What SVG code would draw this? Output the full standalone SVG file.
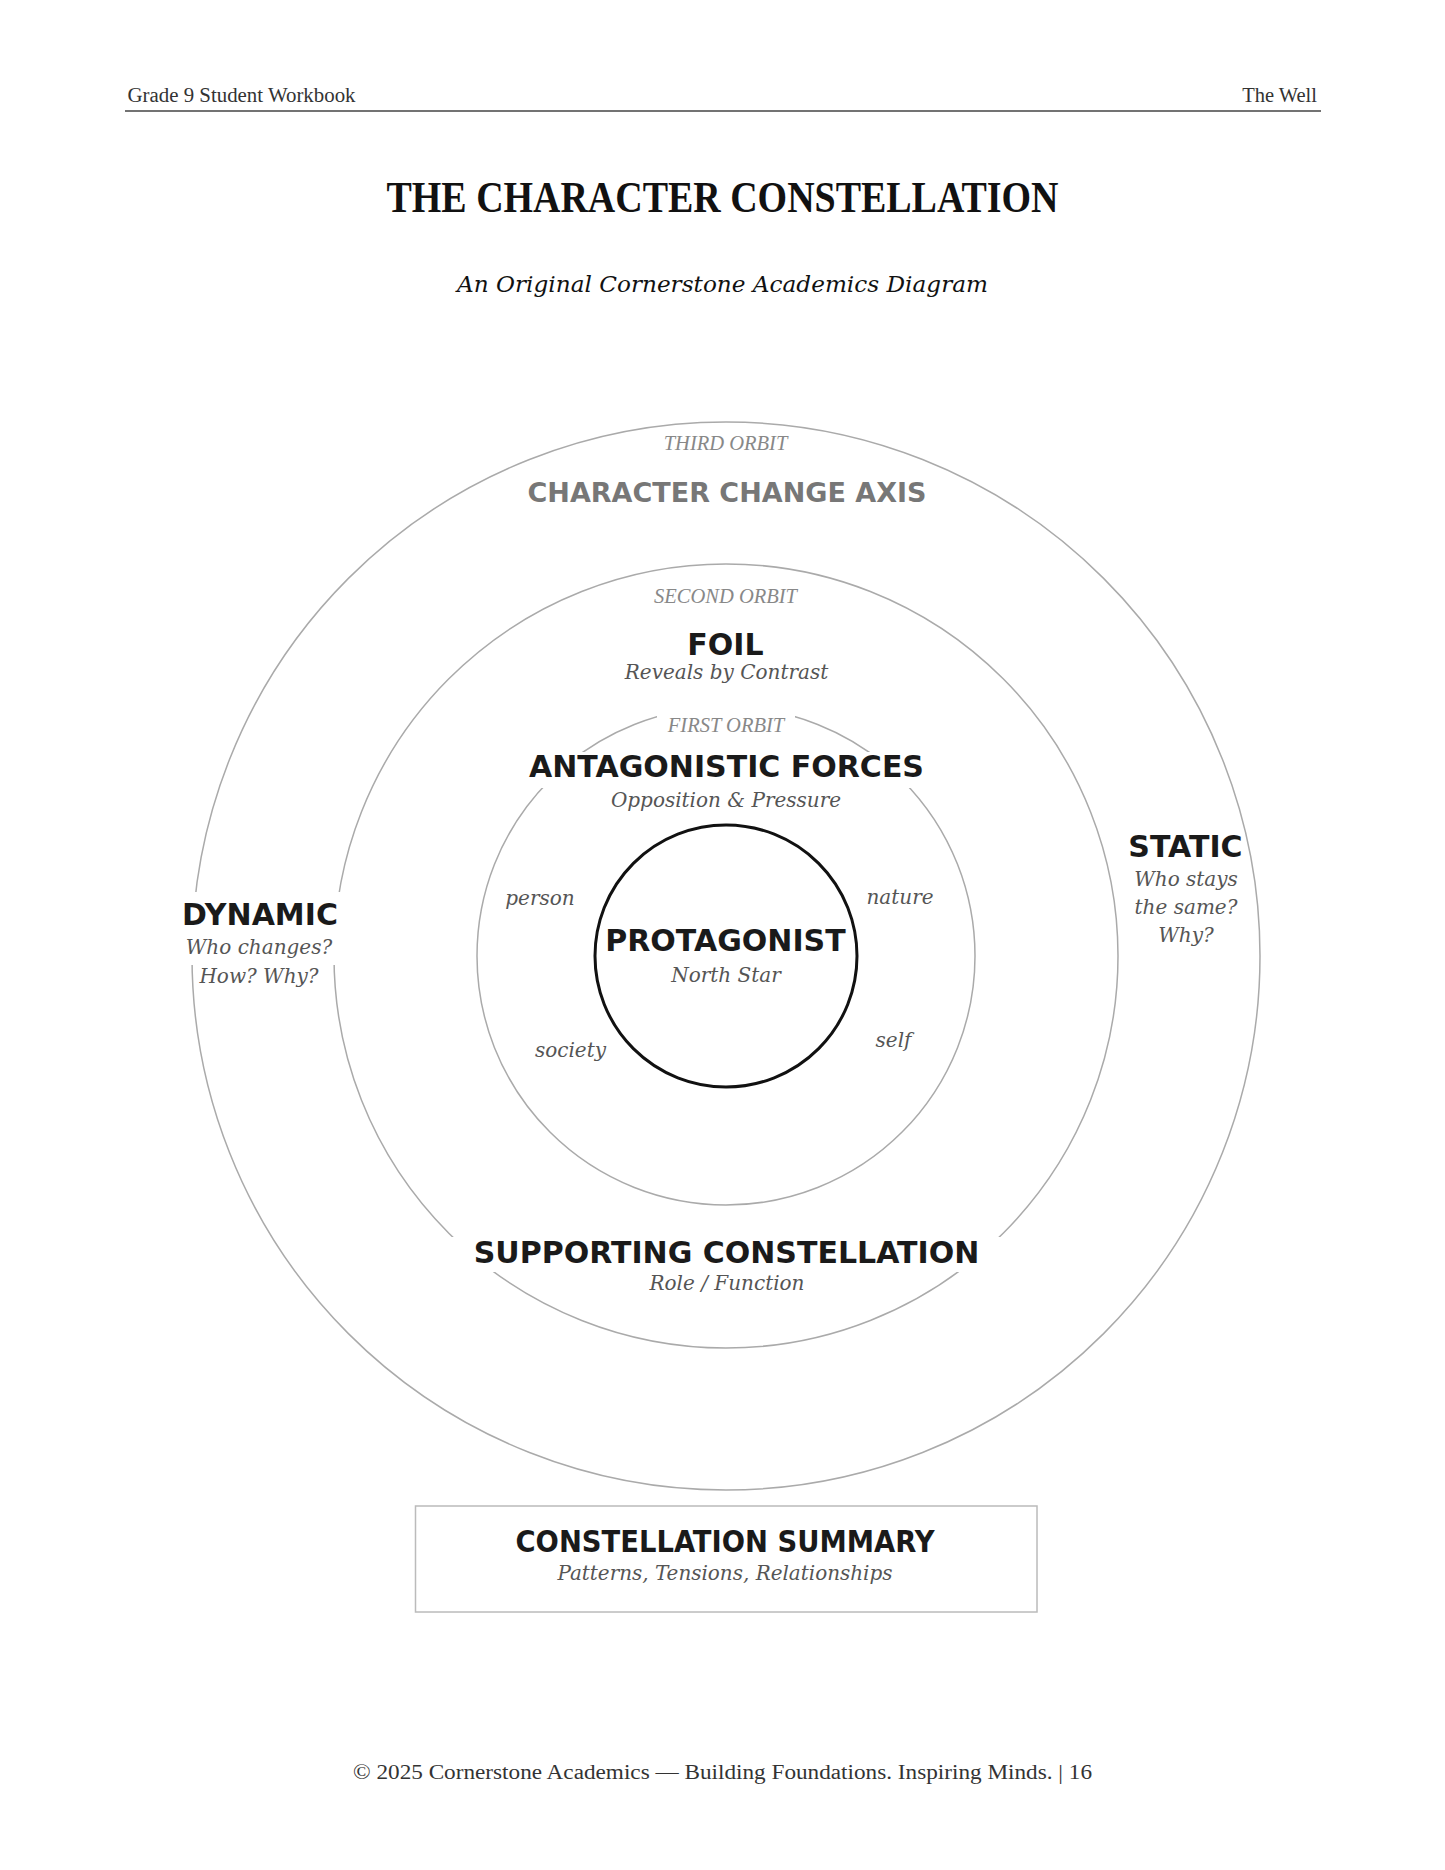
<svg xmlns="http://www.w3.org/2000/svg" width="1445" height="1870" viewBox="0 0 1445 1870">
<style>
.hdr{font-family:"Liberation Serif",serif;font-size:20.5px;fill:#333}
.title{font-family:"Liberation Serif",serif;font-weight:bold;font-size:45px;fill:#111}
.sub{font-family:"DejaVu Serif",serif;font-style:italic;font-size:23px;fill:#111}
.orbitlbl{font-family:"Liberation Serif",serif;font-style:italic;font-size:20.5px;fill:#888;text-anchor:middle}
.head{font-family:"DejaVu Sans",sans-serif;font-weight:bold;font-size:30px;fill:#1a1a1a;text-anchor:middle}
.axis{font-family:"DejaVu Sans",sans-serif;font-weight:bold;font-size:27px;fill:#777;text-anchor:middle}
.it{font-family:"DejaVu Serif",serif;font-style:italic;font-size:20px;fill:#555;text-anchor:middle}
.orbit{fill:none;stroke:#aaa;stroke-width:1.5}
.bg{fill:#fff;stroke:none}
</style>
<rect width="1445" height="1870" fill="#fff"/>
<g id="header">
<text class="hdr" x="127.5" y="102" textLength="228" lengthAdjust="spacingAndGlyphs">Grade 9 Student Workbook</text>
<text class="hdr" x="1317" y="102" text-anchor="end">The Well</text>
<line x1="125" y1="111" x2="1321" y2="111" stroke="#444" stroke-width="1.5"/>
</g>
<g id="title">
<text class="title" x="722.5" y="212" text-anchor="middle" textLength="672" lengthAdjust="spacingAndGlyphs">THE CHARACTER CONSTELLATION</text>
<text class="sub" x="722.5" y="292" text-anchor="middle" textLength="531" lengthAdjust="spacingAndGlyphs">An Original Cornerstone Academics Diagram</text>
</g>
<g id="orbits">
<circle id="third-orbit" class="orbit" cx="726" cy="956" r="534"/>
<circle id="second-orbit" class="orbit" cx="726" cy="956" r="392"/>
<circle id="first-orbit" class="orbit" cx="726" cy="956" r="249"/>
</g>
<g id="connectors"></g>
<g id="node-third-orbit">
<text class="orbitlbl" x="725.5" y="450">THIRD ORBIT</text>
<text class="axis" x="727" y="501.5">CHARACTER CHANGE AXIS</text>
</g>
<g id="node-foil">
<text class="orbitlbl" x="725.5" y="602.5">SECOND ORBIT</text>
<text class="head" x="725.5" y="655">FOIL</text>
<text class="it" x="726.5" y="679">Reveals by Contrast</text>
</g>
<g id="node-antagonistic">
<rect class="bg" x="657" y="703" width="138" height="36"/>
<text class="orbitlbl" x="726" y="732">FIRST ORBIT</text>
<rect class="bg" x="520" y="752" width="412" height="36"/>
<text class="head" x="726.5" y="777">ANTAGONISTIC FORCES</text>
<text class="it" x="726" y="806.5">Opposition &amp; Pressure</text>
<text class="it" x="540" y="905">person</text>
<text class="it" x="900" y="904">nature</text>
<text class="it" x="570.5" y="1057">society</text>
<text class="it" x="893.5" y="1047">self</text>
</g>
<g id="node-protagonist">
<circle cx="726" cy="956" r="131" fill="none" stroke="#111" stroke-width="3"/>
<text class="head" x="725.5" y="951">PROTAGONIST</text>
<text class="it" x="726" y="982">North Star</text>
</g>
<g id="node-dynamic">
<rect class="bg" x="175" y="892" width="170" height="73"/>
<text class="head" x="260" y="925">DYNAMIC</text>
<text class="it" x="259" y="954">Who changes?</text>
<text class="it" x="259" y="983">How? Why?</text>
</g>
<g id="node-static">
<text class="head" x="1185.5" y="857">STATIC</text>
<text class="it" x="1186" y="886">Who stays</text>
<text class="it" x="1186" y="914">the same?</text>
<text class="it" x="1186" y="942">Why?</text>
</g>
<g id="node-supporting">
<rect class="bg" x="445" y="1237" width="562" height="35"/>
<text class="head" x="726.5" y="1263">SUPPORTING CONSTELLATION</text>
<text class="it" x="727" y="1290">Role / Function</text>
</g>
<g id="node-summary">
<rect x="415.5" y="1506" width="621.5" height="106" fill="#fff" stroke="#bbb" stroke-width="1.5"/>
<text x="725" y="1552" text-anchor="middle" textLength="419" lengthAdjust="spacingAndGlyphs" style="font-family:'DejaVu Sans Condensed','DejaVu Sans',sans-serif;font-weight:bold;font-size:29.5px;fill:#1a1a1a">CONSTELLATION SUMMARY</text>
<text x="725" y="1580" text-anchor="middle" textLength="335" lengthAdjust="spacingAndGlyphs" style="font-family:'DejaVu Serif Condensed','DejaVu Serif',serif;font-style:italic;font-size:19.5px;fill:#555">Patterns, Tensions, Relationships</text>
</g>
<g id="footer">
<text class="hdr" x="722.5" y="1779" text-anchor="middle" textLength="739" lengthAdjust="spacingAndGlyphs">© 2025 Cornerstone Academics — Building Foundations. Inspiring Minds. | 16</text>
</g>
</svg>
